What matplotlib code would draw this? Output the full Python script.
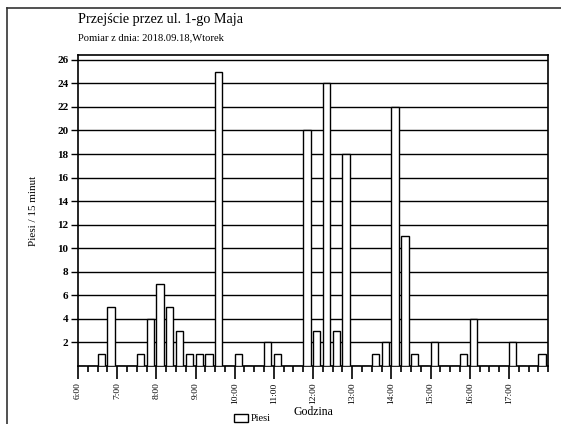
import matplotlib
matplotlib.use('Agg')
import matplotlib.pyplot as plt
from matplotlib.lines import Line2D
from matplotlib.patches import Patch
import numpy as np

TITLE = 'Przejście przez ul. 1-go Maja'
SUBTITLE = 'Pomiar z dnia: 2018.09.18,Wtorek'

# pedestrians counted in each 15 minute slot, 6:00 .. 17:45
START_HOUR = 6
counts = [0, 0, 1, 5, 0, 0, 1, 4,
          7, 5, 3, 1, 1, 1, 25, 0,
          1, 0, 0, 2, 1, 0, 0, 20,
          3, 24, 3, 18, 0, 0, 1, 2,
          22, 11, 1, 0, 2, 0, 0, 1,
          4, 0, 0, 0, 2, 0, 0, 1]
hour_labels = ['6:00', '7:00', '8:00', '9:00', '10:00', '11:00',
               '12:00', '13:00', '14:00', '15:00', '16:00', '17:00']
y_ticks = list(range(2, 27, 2))

plt.rcParams['font.family'] = ['Liberation Serif', 'DejaVu Serif']

fig = plt.figure(figsize=(5.61, 4.24), dpi=100)
ax = fig.add_axes([0.139, 0.137, 0.838, 0.733])

slot = 0.25
x = START_HOUR + np.arange(len(counts)) * slot
ax.bar(x, counts, width=slot * 0.75, align='edge', color='white',
       edgecolor='black', linewidth=1.0, zorder=3)

ax.set_xlim(START_HOUR, START_HOUR + len(counts) * slot)
ax.set_ylim(0, 26.4)

ax.set_yticks(y_ticks)
ax.set_yticklabels([str(v) for v in y_ticks], fontsize=8, fontweight='bold')
ax.yaxis.grid(True, color='black', linewidth=1.0)
ax.set_axisbelow(True)

major = START_HOUR + np.arange(len(hour_labels))
ax.set_xticks(major)
ax.set_xticklabels(hour_labels, rotation=90, fontsize=6.8)
ax.set_xticks(START_HOUR + np.arange(len(counts) + 1) * slot, minor=True)
ax.tick_params(axis='x', which='major', length=9, width=1.2, pad=3)
ax.tick_params(axis='x', which='minor', length=4, width=1.2)
ax.tick_params(axis='y', length=5, width=1.0, pad=2)

for s in ax.spines.values():
    s.set_linewidth(1.2)

ax.set_ylabel('Piesi / 15 minut', fontsize=8, labelpad=14)
ax.set_xlabel('Godzina', fontsize=8.5, labelpad=1)

fig.text(0.139, 0.953, TITLE, fontsize=10.2, va='center', ha='left')
fig.text(0.139, 0.910, SUBTITLE, fontsize=7.6, va='center', ha='left')

fig.legend(handles=[Patch(facecolor='white', edgecolor='black', linewidth=1.0)],
           labels=['Piesi'], loc='center', bbox_to_anchor=(0.45, 0.013),
           frameon=False, fontsize=7.5, handlelength=1.3, handleheight=0.9,
           handletextpad=0.3, borderpad=0)

# page border around the chart
fig.add_artist(Line2D([7 / 561, 1], [1 - 8 / 424, 1 - 8 / 424],
                      transform=fig.transFigure, color='#333333', lw=1.2))
fig.add_artist(Line2D([7 / 561, 7 / 561], [0, 1 - 8 / 424],
                      transform=fig.transFigure, color='#333333', lw=1.2))

fig.savefig('out.png', dpi=100)
